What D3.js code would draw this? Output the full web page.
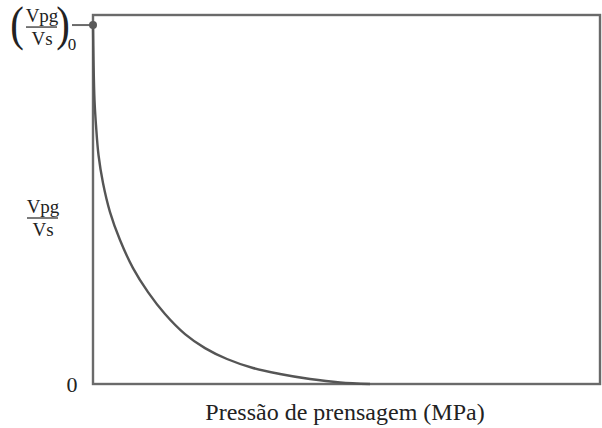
<!DOCTYPE html>
<html>
<head>
<meta charset="utf-8">
<script src="https://cdn.jsdelivr.net/npm/d3@7"></script>
<style>
  html, body { margin: 0; padding: 0; background: #fff; }
  svg { display: block; }
  text { font-family: "Liberation Serif", Tinos, "Times New Roman", Times, "DejaVu Serif", serif; }
</style>
</head>
<body>
<svg id="chart" width="602" height="428"></svg>
<script>
// Pressing pressure (relative units) and the pore-volume ratio Vpg/Vs, normalised to its initial value
const pressure = [0, 0.099, 0.296, 0.592, 1.085, 1.972, 3.353, 5.325, 7.89, 10.85, 14.2, 18.15, 22.09, 26.43, 31.56, 36.88, 42.8, 48.72, 54.64];
const ratio    = [1, 0.903, 0.791, 0.721, 0.638, 0.56, 0.479, 0.401, 0.323, 0.256, 0.195, 0.139, 0.1, 0.0696, 0.0446, 0.0279, 0.0139, 0.0042, 0.0];
const yTickValues = [0];
const xAxisTitle = "Pressão de prensagem (MPa)";

const svg = d3.select("#chart");
const margin = { left: 93, right: 2, top: 15, bottom: 44 };
const W = 602, H = 428;

const x = d3.scaleLinear().domain([0, 100]).range([margin.left, W - margin.right]);
const y = d3.scaleLinear().domain([0, 1.028]).range([H - margin.bottom, margin.top]);

const ink = "#6a6a6a";
const txt = "#222";

// plot frame
svg.append("rect")
  .attr("x", x(0)).attr("y", y(1.028))
  .attr("width", x(100) - x(0)).attr("height", y(0) - y(1.028))
  .attr("fill", "none").attr("stroke", ink).attr("stroke-width", 2.4);

// compaction curve
const line = d3.line()
  .x((d, i) => x(pressure[i]))
  .y(d => y(d))
  .curve(d3.curveCatmullRom.alpha(0.5));

svg.append("path")
  .datum(ratio)
  .attr("d", line)
  .attr("fill", "none")
  .attr("stroke", "#555")
  .attr("stroke-width", 2.4);

// initial value marker and its tick
svg.append("line")
  .attr("x1", x(0) - 21).attr("x2", x(0))
  .attr("y1", y(ratio[0])).attr("y2", y(ratio[0]))
  .attr("stroke", ink).attr("stroke-width", 2);
svg.append("circle")
  .attr("cx", x(pressure[0])).attr("cy", y(ratio[0]))
  .attr("r", 4).attr("fill", "#5a5a5a");

// y tick label "0"
svg.selectAll(".ytick").data(yTickValues).enter().append("text")
  .attr("class", "ytick")
  .attr("x", x(0) - 21).attr("y", d => y(d) + 8)
  .attr("text-anchor", "middle")
  .attr("font-size", 22).attr("fill", txt)
  .text(d => d);

// fraction helper
function fraction(cx, barY, size) {
  const g = svg.append("g").attr("fill", txt);
  g.append("text").attr("x", cx).attr("y", barY - 5)
    .attr("text-anchor", "middle").attr("font-size", size).text("Vpg");
  g.append("line").attr("x1", cx - 16).attr("x2", cx + 15)
    .attr("y1", barY).attr("y2", barY).attr("stroke", "#333").attr("stroke-width", 1.3);
  g.append("text").attr("x", cx).attr("y", barY + 18)
    .attr("text-anchor", "middle").attr("font-size", size).text("Vs");
  return g;
}

// (Vpg/Vs)0 label at the initial value
const topY = y(ratio[0]);
const g0 = fraction(42, topY + 2, 19);
g0.append("text").attr("x", 17).attr("y", topY + 15)
  .attr("text-anchor", "middle").attr("font-size", 48)
  .attr("transform", `translate(17,${topY}) scale(0.85,1) translate(-17,${-topY})`)
  .text("(");
g0.append("text").attr("x", 63).attr("y", topY + 15)
  .attr("text-anchor", "middle").attr("font-size", 48)
  .attr("transform", `translate(63,${topY}) scale(0.85,1) translate(-63,${-topY})`)
  .text(")");
g0.append("text").attr("x", 72).attr("y", topY + 25)
  .attr("text-anchor", "middle").attr("font-size", 17).text("0");

// axis fraction label
fraction(43, 218, 19);

// x axis title
svg.append("text")
  .attr("x", 345).attr("y", 420)
  .attr("text-anchor", "middle")
  .attr("font-size", 24).attr("fill", txt)
  .text(xAxisTitle);
</script>
</body>
</html>
